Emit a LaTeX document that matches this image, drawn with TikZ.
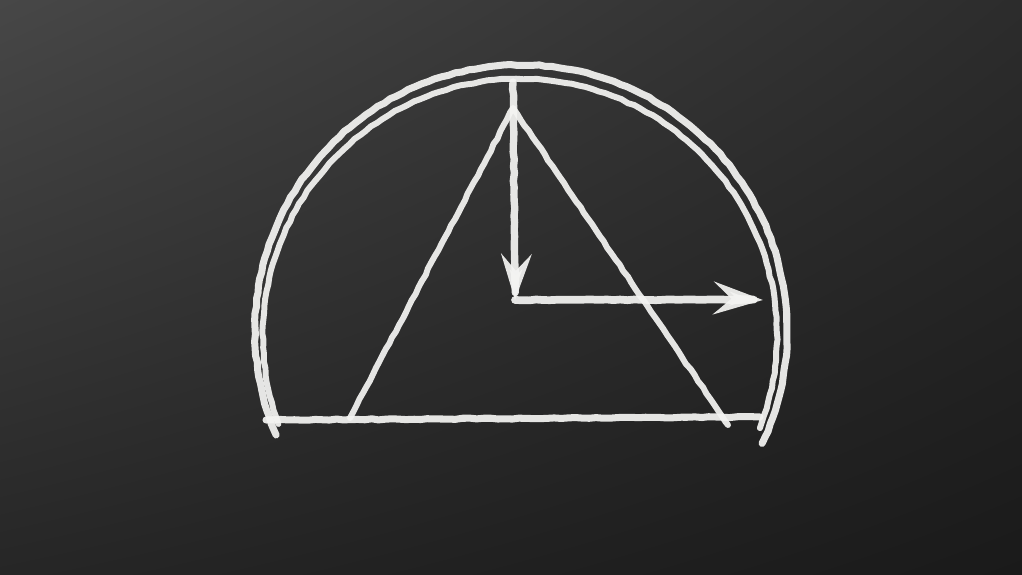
\documentclass[tikz,border=0pt]{standalone}
\usetikzlibrary{arrows.meta,decorations.pathmorphing,shadings}
\definecolor{boardUL}{HTML}{474747}
\definecolor{boardUR}{HTML}{2C2C2C}
\definecolor{boardLL}{HTML}{262626}
\definecolor{boardLR}{HTML}{1A1A1A}
\definecolor{chalk}{HTML}{F4F4F2}
\begin{document}
\begin{tikzpicture}[x=0.02cm, y=0.02cm,
	chalkline/.style={draw=chalk, line cap=round, line join=round, opacity=0.93,
		decorate, decoration={random steps, segment length=4pt, amplitude=0.35pt}},
	chalktip/.style={-{Stealth[length=#1, width=0.66*#1, inset=0.36*#1]}}]
	\useasboundingbox (0,0) rectangle (1022,575);
	\shade[upper left=boardUL, upper right=boardUR, lower left=boardLL, lower right=boardLR] (0,0) rectangle (1022,575);
	\coordinate (apex) at (513,467);
	\coordinate (baseL) at (350,157);
	\coordinate (baseR) at (728,150);
	\coordinate (lineL) at (266,155);
	\coordinate (lineR) at (760,158);
	\coordinate (top) at (513,493);
	\coordinate (corner) at (515,275);
	\coordinate (tip) at (763,275);
	\foreach \c\d\r\a\b\w in {521/244/266/-25/203/4pt, 520/239/257/-21/200/3.4pt}{
		\draw[chalkline, line width=\w] (\c,\d) ++(\a:\r) arc[start angle=\a, end angle=\b, radius=\r];
	}
	\draw[chalkline, line width=4pt] (lineL) -- (lineR);
	\draw[chalkline, line width=3.4pt] (baseL) -- (apex) -- (baseR);
	\draw[chalkline, line width=4.2pt, chalktip=26pt] (top) -- (corner);
	\draw[chalkline, line width=4.4pt, chalktip=28pt] (corner) -- (tip);
\end{tikzpicture}
\end{document}
